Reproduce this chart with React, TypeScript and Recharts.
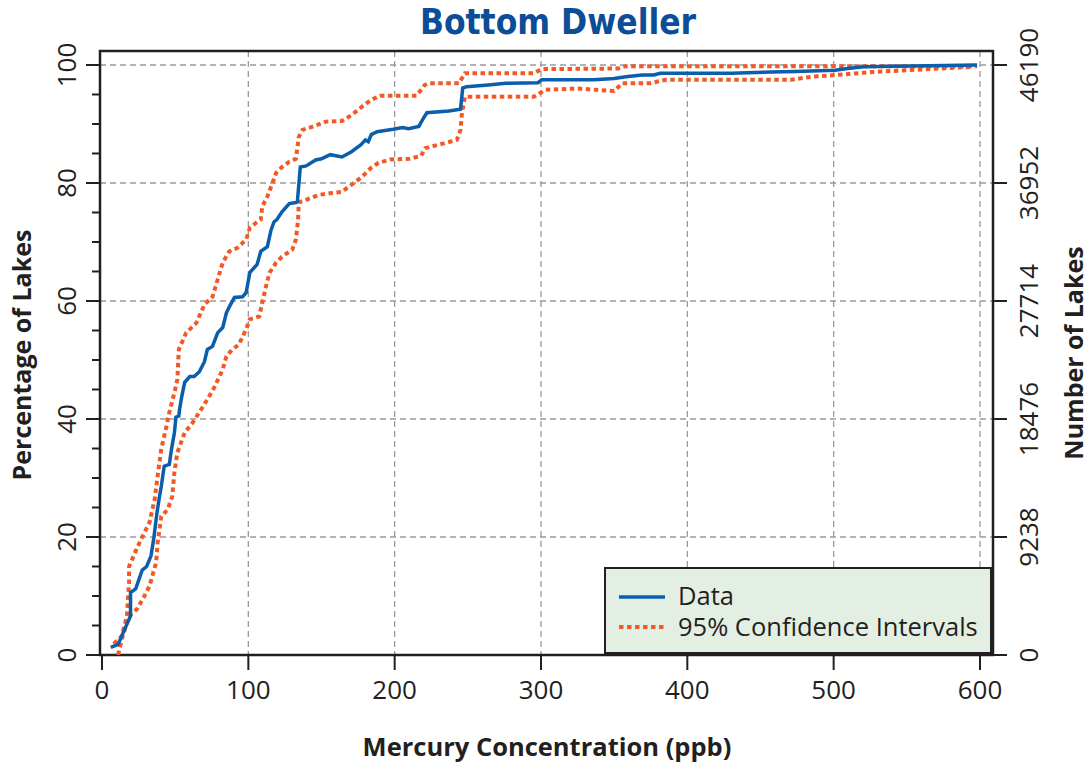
import React from "react";
import { LineChart, Line, XAxis, YAxis, CartesianGrid, ReferenceArea, Legend } from "recharts";

// values (ppb vs percentage of lakes)
const dataX = [6, 11, 17.5, 19.5, 19.5, 23, 27.5, 30.5, 33.5, 35.5, 37.5, 39, 40.5, 42.5, 46, 47.5, 49.5, 50.5, 52.5, 53, 54.5, 56.5, 60, 63, 66.5, 70, 72, 75.5, 79, 82.5, 85, 87, 90.5, 96, 98.5, 101, 106, 108.5, 113, 115.5, 117.5, 119.5, 123, 128, 132.5, 133.5, 135.5, 139.5, 146, 150, 156, 164, 170.5, 177, 180, 182, 184, 188, 199, 205.5, 209.5, 216.5, 219, 222, 237, 245, 246.5, 249, 264, 276, 298, 300.5, 336, 350, 358, 369, 377, 381.5, 430, 457.5, 474, 501, 509.5, 520.5, 598];
const dataY = [1.3, 1.8, 5.5, 6.6, 10.6, 11.2, 14.4, 15, 16.8, 20, 24, 26.4, 28.6, 32, 32.3, 34.9, 37.7, 40.3, 40.5, 41.6, 43.8, 46.2, 47.2, 47.2, 48, 49.7, 51.8, 52.3, 54.6, 55.5, 58, 59, 60.6, 60.7, 61.4, 64.8, 66.2, 68.4, 69.2, 72, 73.4, 73.8, 75.1, 76.5, 76.7, 76.8, 82.7, 82.9, 83.9, 84.1, 84.8, 84.4, 85.3, 86.5, 87.3, 87, 88.2, 88.7, 89.1, 89.4, 89.2, 89.6, 90.7, 91.9, 92.2, 92.5, 96.1, 96.3, 96.6, 96.9, 97, 97.5, 97.5, 97.7, 98, 98.3, 98.3, 98.6, 98.6, 98.8, 98.9, 99.1, 99.4, 99.7, 100];

const upperX = [8, 13.5, 17, 18.5, 18.5, 23.5, 27.5, 32.5, 36, 38, 40.5, 44, 46, 49.5, 51.5, 52.5, 57.5, 64.5, 70, 75.5, 79, 82.5, 87, 92.5, 98.5, 101, 105.5, 108.5, 109.5, 113, 116.5, 119, 123, 128, 132.5, 134.5, 137, 143.5, 153, 164, 170.5, 177.5, 184, 190, 215, 220.5, 223, 244, 248, 253.5, 295, 300.5, 352.5, 358, 598];
const upperY = [1.9, 3.2, 6.6, 12.3, 15, 17.9, 20, 22.5, 26.4, 30.3, 34.9, 38.7, 41.1, 44.5, 46.7, 51.8, 54.6, 56.3, 59.4, 60.7, 63.6, 66.5, 68.4, 69, 70.4, 72.4, 73.3, 73.8, 76, 77.7, 80, 81.7, 82.7, 83.6, 84.1, 87.8, 89, 89.5, 90.4, 90.5, 91.5, 92.9, 94.1, 94.8, 94.8, 96.6, 96.9, 96.9, 98.6, 98.6, 98.6, 99.3, 99.4, 99.8, 99.8];

const lowerX = [11, 13.5, 18.5, 24, 29, 32.5, 37, 38, 40.5, 45, 48, 49.5, 51.5, 56.5, 62, 69, 76, 82.5, 85, 89, 93.5, 98.5, 101, 107.5, 109.5, 112, 114.5, 119, 123, 130, 132.5, 134, 134.5, 140, 148.5, 157, 164, 170.5, 177.5, 184, 189, 197, 210, 218, 221, 242.5, 245, 246, 248, 264, 295, 303, 325, 350, 355.5, 374.5, 385.5, 471, 485, 501.5, 526, 596];
const lowerY = [0, 2.7, 6.6, 7.8, 10, 11.7, 15.7, 19, 23.5, 24.7, 26.9, 31, 34.3, 37.7, 39.4, 42.1, 45, 48.4, 50.6, 51.8, 52.6, 55.2, 56.9, 57.4, 59.7, 62.4, 64.8, 66.5, 67.5, 68.7, 70.4, 73.8, 76.7, 77.2, 78, 78.3, 78.5, 79.7, 81, 82.6, 83.4, 84, 84.1, 84.6, 85.9, 87.3, 89, 91.9, 94.6, 94.6, 94.6, 95.8, 96, 95.6, 96.9, 96.9, 97.5, 97.5, 98, 98.3, 98.8, 99.7];

const xTicks = [0, 100, 200, 300, 400, 500, 600];
const leftTicks = [0, 5, 10, 15, 20, 25, 30, 35, 40, 45, 50, 55, 60, 65, 70, 75, 80, 85, 90, 95, 100];
const leftGrid = [0, 20, 40, 60, 80, 100];
const rightTicks = [0, 9238, 18476, 27714, 36952, 46190];

const dataSeries = dataX.map((x, i) => ({ x, y: dataY[i] }));
const upperSeries = upperX.map((x, i) => ({ x, y: upperY[i] }));
const lowerSeries = lowerX.map((x, i) => ({ x, y: lowerY[i] }));

const FONT = '"Open Sans", sans-serif';
const INK = "#231f20";
const BLUE = "#0a5eab";
const ORANGE = "#f15a24";

const LeftTick = (props: any) => {
  const { y, payload } = props;
  const v = payload.value;
  const major = v % 20 === 0;
  return (
    <g>
      <line x1={major ? 86 : 92} x2={100} y1={y} y2={y} stroke={INK} strokeWidth={2} />
      {major && (
        <text x={76} y={y} transform={`rotate(-90 76 ${y})`} textAnchor="middle" fontFamily={FONT} fontSize={26} fill={INK}>
          {v}
        </text>
      )}
    </g>
  );
};

const RightTick = (props: any) => {
  const { y, payload } = props;
  return (
    <g>
      <line x1={993} x2={1007} y1={y} y2={y} stroke={INK} strokeWidth={2} />
      <text x={1038} y={y} transform={`rotate(-90 1038 ${y})`} textAnchor="middle" fontFamily={FONT} fontSize={26} fill={INK}>
        {payload.value}
      </text>
    </g>
  );
};

const BottomTick = (props: any) => {
  const { x, payload } = props;
  return (
    <g>
      <line x1={x} x2={x} y1={655} y2={670} stroke={INK} strokeWidth={2} />
      <text x={x} y={699} textAnchor="middle" fontFamily={FONT} fontSize={26} fill={INK}>
        {payload.value}
      </text>
    </g>
  );
};

const legendText = { position: "absolute" as const, left: 72, lineHeight: "26px", height: 26, whiteSpace: "nowrap" as const };

const LegendBox = () => (
  <div
    style={{
      width: 388,
      height: 87,
      background: "#e3efe3",
      border: `2px solid ${INK}`,
      fontFamily: FONT,
      fontSize: 25.5,
      color: INK,
      boxSizing: "border-box",
      position: "relative",
    }}
  >
    <svg width={60} height={87} style={{ position: "absolute", left: 0, top: 0 }}>
      <line x1={13} x2={59} y1={28} y2={28} stroke={BLUE} strokeWidth={3.5} />
      <line x1={13} x2={59} y1={58} y2={58} stroke={ORANGE} strokeWidth={4} strokeDasharray="4.5 3.5" />
    </svg>
    <div style={{ ...legendText, top: 13 }}>Data</div>
    <div style={{ ...legendText, top: 44 }}>95% Confidence Intervals</div>
  </div>
);

export default function App() {
  return (
    <div style={{ position: "absolute", left: 0, top: 0, width: 1088, height: 763, background: "#fff" }}>
      <LineChart width={1088} height={763} margin={{ top: 51, right: 0, bottom: 0, left: 0 }}>
        <CartesianGrid
          stroke="#9a9a9a"
          strokeWidth={1.3}
          strokeDasharray="6 4"
          horizontalValues={leftGrid}
          verticalValues={[100, 200, 300, 400, 500, 600]}
          yAxisId="left"
        />
        <XAxis
          dataKey="x"
          type="number"
          domain={[-1.37, 608.9]}
          allowDataOverflow
          ticks={xTicks}
          height={108}
          tickLine={false}
          axisLine={false}
          tick={<BottomTick />}
        />
        <YAxis
          yAxisId="left"
          type="number"
          domain={[0, 102.37]}
          allowDataOverflow
          ticks={leftTicks}
          width={100}
          interval={0}
          tickLine={false}
          axisLine={false}
          tick={<LeftTick />}
        />
        <YAxis
          yAxisId="right"
          orientation="right"
          type="number"
          domain={[0, 47285]}
          allowDataOverflow
          ticks={rightTicks}
          width={95}
          interval={0}
          tickLine={false}
          axisLine={false}
          tick={<RightTick />}
        />
        <Line
          yAxisId="left"
          data={lowerSeries}
          dataKey="y"
          type="linear"
          stroke={ORANGE}
          strokeWidth={4}
          strokeDasharray="4.5 3.5"
          dot={false}
          isAnimationActive={false}
          legendType="none"
        />
        <Line
          yAxisId="left"
          data={upperSeries}
          dataKey="y"
          type="linear"
          stroke={ORANGE}
          strokeWidth={4}
          strokeDasharray="4.5 3.5"
          dot={false}
          isAnimationActive={false}
          legendType="none"
        />
        <Line
          yAxisId="left"
          data={dataSeries}
          dataKey="y"
          type="linear"
          stroke={BLUE}
          strokeWidth={3.5}
          dot={false}
          isAnimationActive={false}
          legendType="none"
        />
        <ReferenceArea
          yAxisId="left"
          x1={-1.37}
          x2={608.9}
          y1={0}
          y2={102.37}
          fill="none"
          stroke={INK}
          strokeWidth={2.5}
          ifOverflow="visible"
        />
        <Legend
          layout="vertical"
          align="center"
          verticalAlign="middle"
          wrapperStyle={{ left: 604, top: 567, width: 388, height: 87 }}
          content={<LegendBox />}
        />
      </LineChart>
      <div
        style={{
          position: "absolute",
          left: 558,
          top: 22,
          transform: "translate(-50%, -50%)",
          fontFamily: '"DejaVu Sans Condensed", "DejaVu Sans", sans-serif',
          fontStretch: "condensed",
          fontWeight: "bold",
          fontSize: 35,
          color: "#0b4d96",
          whiteSpace: "nowrap",
          lineHeight: 1,
        }}
      >
        Bottom Dweller
      </div>
      <div
        style={{
          position: "absolute",
          left: 547,
          top: 747,
          transform: "translate(-50%, -50%)",
          fontFamily: FONT,
          fontWeight: "bold",
          fontSize: 25.5,
          color: INK,
          whiteSpace: "nowrap",
          lineHeight: 1,
        }}
      >
        Mercury Concentration (ppb)
      </div>
      <div
        style={{
          position: "absolute",
          left: 21,
          top: 355,
          transform: "translate(-50%, -50%) rotate(-90deg)",
          fontFamily: FONT,
          fontWeight: "bold",
          fontSize: 25,
          color: INK,
          whiteSpace: "nowrap",
          lineHeight: 1,
        }}
      >
        Percentage of Lakes
      </div>
      <div
        style={{
          position: "absolute",
          left: 1073,
          top: 353,
          transform: "translate(-50%, -50%) rotate(-90deg)",
          fontFamily: FONT,
          fontWeight: "bold",
          fontSize: 25,
          color: INK,
          whiteSpace: "nowrap",
          lineHeight: 1,
        }}
      >
        Number of Lakes
      </div>
    </div>
  );
}
